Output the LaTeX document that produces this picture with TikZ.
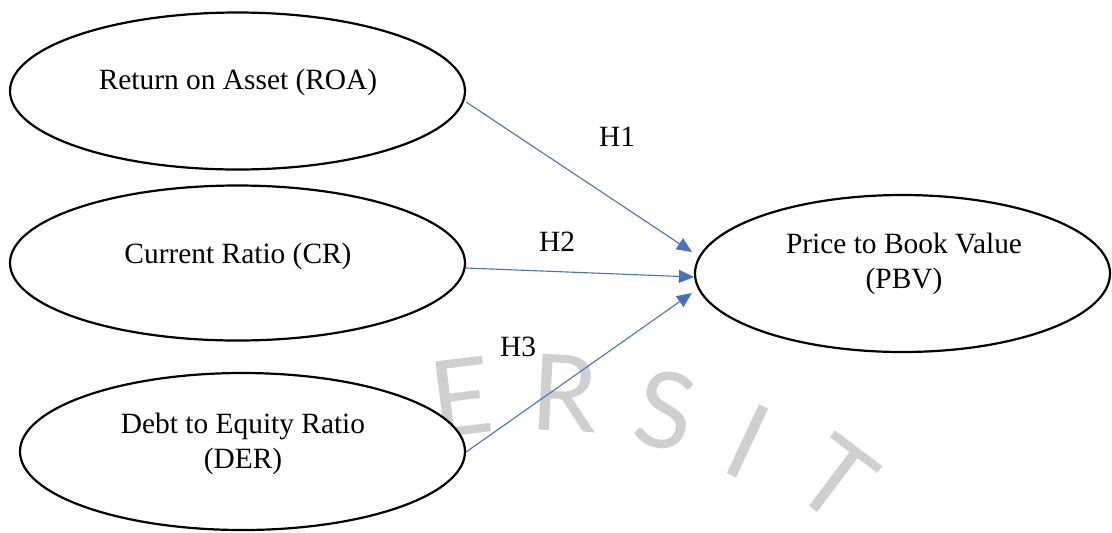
\documentclass[tikz,border=0pt]{standalone}
\usepackage{fontspec}
\setmainfont{Liberation Serif}
\newfontfamily\wmfont{Lato}
\usetikzlibrary{shapes.geometric,arrows.meta,calc}
\definecolor{arrowblue}{HTML}{4472C4}
\definecolor{wmgray}{HTML}{CFCFCF}
\begin{document}
\begin{tikzpicture}[x=0.5pt,y=-0.5pt,
  oval/.style={ellipse, draw=black, line width=1.1pt, fill=white, inner sep=0pt},
  lbl/.style={font=\fontsize{14.7}{17.3}\selectfont, align=center, inner sep=0pt},
  arr/.style={draw=arrowblue, line width=0.55pt, -{Triangle[length=7.5pt,width=6.5pt]}},
  wm/.style={text=wmgray, font=\wmfont\fontsize{53}{53}\selectfont, inner sep=0pt}]
\useasboundingbox (0,0) rectangle (1112,532);
% watermark
\node[wm, rotate=7]   (wE) at (461,397) {E};
\node[wm, rotate=-3]  (wR) at (565,393) {R};
\node[wm, rotate=-12] (wS) at (666,410) {S};
\node[wm, rotate=-25] (wI) at (748,441) {I};
\node[wm, rotate=-37] (wT) at (836,479) {T};
% ellipses
\node[oval, minimum width=227.5pt, minimum height=78.5pt] (roa) at (237.5,91) {};
\node[oval, minimum width=227.5pt, minimum height=77.5pt] (cr)  at (237.5,263) {};
\node[oval, minimum width=222.5pt, minimum height=78.5pt] (der) at (242.5,451.5) {};
\node[oval, minimum width=207.5pt, minimum height=78.5pt] (pbv) at (902.5,273.5) {};
% texts
\node[lbl] (troa) at (238,82) {Return on Asset (ROA)};
\node[lbl] (tcr)  at (238,256) {Current Ratio (CR)};
\node[lbl] (tder) at (243,444) {Debt to Equity Ratio\\(DER)};
\node[lbl] (tpbv) at (904,264) {Price to Book Value\\(PBV)};
% arrows
\draw[arr] ($(roa.east)+(0,11)$) -- ($(pbv.west)+(-2,-21.5)$);
\draw[arr] ($(cr.east)+(0,5)$) -- ($(pbv.west)+(0,3.5)$);
\draw[arr] ($(der.east)+(0,0.5)$) -- ($(pbv.west)+(-2,19.5)$);
% labels
\node[lbl] (h1) at (617,137) {H1};
\node[lbl] (h2) at (557,242) {H2};
\node[lbl] (h3) at (518,347) {H3};
\end{tikzpicture}
\end{document}
